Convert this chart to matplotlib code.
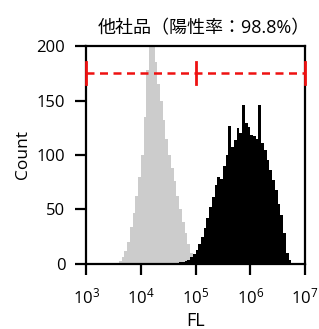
import numpy as np
import matplotlib
matplotlib.use("Agg")
import matplotlib.pyplot as plt

plt.rcParams['font.family'] = ['Open Sans', 'Noto Sans CJK JP', 'DejaVu Sans']

# 对照 (灰色) - log10 bin 起点 3.55, 宽 0.05
grey_start = 3.55
grey_counts = [1, 3, 6, 12, 20, 34, 47, 62, 80, 100,
               135, 178, 205, 210, 185, 165, 150, 132, 115, 100,
               88, 76, 62, 50, 38, 28, 18, 10, 4, 1]

# 样品 (黑色) - log10 bin 起点 4.65, 宽 0.05
black_start = 4.65
black_counts = [1, 2, 2, 3, 4, 6, 9, 13, 18, 25,
                33, 42, 52, 61, 72, 80, 78, 90, 100, 127,
                107, 114, 125, 120, 146, 129, 126, 118, 117, 115,
                146, 111, 105, 95, 86, 77, 68, 55, 45, 28,
                10, 4]
bin_w = 0.05

gate_y = 175
gate_x = [1e3, 1e5, 1e7]

title = "他社品（陽性率：98.8%）"

fig = plt.figure(figsize=(3.19, 3.29), dpi=100)
ax = fig.add_axes([0.270, 0.198, 0.686, 0.662])

g_edges = 10 ** (grey_start + bin_w * np.arange(len(grey_counts) + 1))
b_edges = 10 ** (black_start + bin_w * np.arange(len(black_counts) + 1))
ax.stairs(grey_counts, g_edges, fill=True, color='#cccccc', zorder=1)
ax.stairs(black_counts, b_edges, fill=True, color='black', zorder=2)

# 门 (红色虚线)
ax.plot([gate_x[0], gate_x[-1]], [gate_y, gate_y], color='#ee1111', lw=1.8,
        ls=(0, (3.2, 2.2)), zorder=3, clip_on=False)
for gx in gate_x:
    ax.plot([gx, gx], [gate_y - 10, gate_y + 10], color='#ee1111', lw=2,
            zorder=3, clip_on=False)

ax.set_xscale('log')
ax.set_xlim(1e3, 1e7)
ax.set_ylim(0, 200)
ax.set_xticks([1e3, 1e4, 1e5, 1e6, 1e7])
ax.set_xticklabels([r'$\mathregular{10^{%d}}$' % i for i in range(3, 8)])
ax.minorticks_off()
ax.set_yticks([0, 50, 100, 150, 200])

for s in ax.spines.values():
    s.set_linewidth(1.6)
ax.tick_params(direction='out', length=8, width=1.6, labelsize=12)
ax.tick_params(axis='x', pad=9)
ax.tick_params(axis='y', pad=7)

ax.set_xlabel('FL', fontsize=13, labelpad=3)
ax.set_ylabel('Count', fontsize=12.5, labelpad=4)
ax.set_title(title, fontsize=13, pad=9, x=0.54)

fig.savefig('out.png', dpi=100)
